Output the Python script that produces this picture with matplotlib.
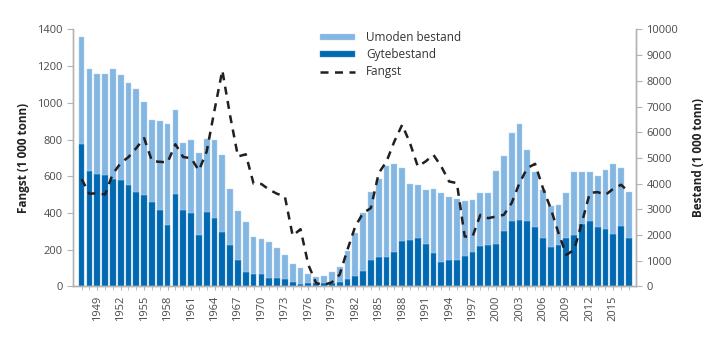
import numpy as np
import matplotlib
matplotlib.use("Agg")
import matplotlib.pyplot as plt

plt.rcParams['font.family'] = ['Open Sans', 'DejaVu Sans']

years = np.arange(1947, 2018)

# Gytebestand (1 000 tonn), nederste del av stolpen
gyte = [5550, 4510, 4380, 4330, 4180, 4140, 3930, 3660, 3570, 3290,
        2970, 2410, 3610, 2980, 2870, 2010, 2900, 2650, 2130, 1620,
        1030, 560, 490, 470, 340, 320, 290, 180, 110, 140,
        120, 140, 130, 180, 290, 420, 620, 1040, 1130, 1140,
        1350, 1780, 1790, 1880, 1660, 1300, 970, 1010, 1040, 1190,
        1350, 1570, 1620, 1670, 2140, 2530, 2590, 2530, 2320, 1890,
        1540, 1610, 1890, 2010, 2430, 2560, 2320, 2240, 2050, 2360,
        1890]

# Totalbestand (umoden + gyte)
total = [9700, 8470, 8280, 8250, 8470, 8240, 7900, 7670, 7190, 6490,
         6450, 6330, 6870, 5600, 5680, 5210, 5750, 5710, 5110, 3790,
         2920, 2520, 1910, 1860, 1730, 1510, 1210, 880, 710, 490,
         350, 420, 560, 750, 1360, 2080, 2850, 3680, 4190, 4700,
         4750, 4600, 4000, 3940, 3740, 3810, 3630, 3500, 3410, 3310,
         3350, 3630, 3630, 4490, 5070, 5980, 6320, 5310, 4450, 3760,
         3140, 3180, 3630, 4440, 4460, 4450, 4290, 4550, 4760, 4600,
         3670]

umoden = [t - g for t, g in zip(total, gyte)]

# Fangst (1 000 tonn)
fangst = [585, 505, 508, 501, 614, 672, 705, 754, 808, 683,
          679, 676, 775, 705, 699, 632, 735, 960, 1177, 930,
          708, 720, 560, 558, 527, 505, 490, 276, 312, 118,
          18, 9, 22, 64, 200, 327, 400, 427, 617, 681,
          790, 881, 781, 654, 681, 717, 654, 572, 563, 272,
          272, 390, 372, 381, 390, 454, 563, 645, 668, 536,
          425, 290, 172, 200, 350, 510, 514, 499, 532, 554,
          514]

light = '#84b6e2'
dark = '#0069b1'
grey = '#4a4a4a'
spine = '#b3b3b3'

fig = plt.figure(figsize=(7.19, 3.41), dpi=100)
ax = fig.add_axes([0.1015, 0.16, 0.783, 0.7535])
ax2 = ax.twinx()

ax2.bar(years, gyte, width=0.74, color=dark, edgecolor='#3f8fcf', linewidth=0.3,
        label='Gytebestand')
ax2.bar(years, umoden, width=0.74, bottom=gyte, color=light, edgecolor='#b5d4f0',
        linewidth=0.3, label='Umoden bestand')
ax.plot(years, fangst, color='#231f20', linewidth=1.8, dashes=(3.2, 2.6),
        label='Fangst')

ax.set_zorder(ax2.get_zorder() + 1)
ax.patch.set_visible(False)

ax.set_xlim(1945.9, 2017.9)
ax.set_ylim(0, 1400)
ax2.set_ylim(0, 10000)
ax.set_yticks(np.arange(0, 1401, 200))
ax2.set_yticks(np.arange(0, 10001, 1000))

ax.set_xticks(years, minor=True)
ax.set_xticks(np.arange(1949, 2016, 3))
ax.set_xticklabels([str(y) for y in range(1949, 2016, 3)], rotation=90)

for a in (ax, ax2):
    for s in a.spines.values():
        s.set_color(spine)
        s.set_linewidth(1.0)
    a.spines['top'].set_visible(False)
    a.tick_params(colors=grey, labelsize=8, length=4, width=0.8)
    a.tick_params(axis='both', which='both', color=spine)
ax.tick_params(axis='x', which='both', length=3)
ax.tick_params(axis='y', labelcolor=grey)
ax2.tick_params(axis='y', labelcolor=grey)

ax.set_ylabel('Fangst (1 000 tonn)', fontsize=8.5, fontweight='bold',
              color='#222222', labelpad=5)
ax2.set_ylabel('Bestand (1 000 tonn)', fontsize=8.5, fontweight='bold',
               color='#222222', rotation=90, labelpad=10)

h2, l2 = ax2.get_legend_handles_labels()
h1, l1 = ax.get_legend_handles_labels()
handles = [h2[1], h2[0], h1[0]]
labels = [l2[1], l2[0], l1[0]]
leg = ax.legend(handles, labels, loc='upper left', bbox_to_anchor=(0.42, 1.035),
                frameon=False, fontsize=8.5, handlelength=3.0, handleheight=0.5,
                labelspacing=0.35, handletextpad=0.9)
for t in leg.get_texts():
    t.set_color('#333333')

fig.savefig('out.png', dpi=100)
